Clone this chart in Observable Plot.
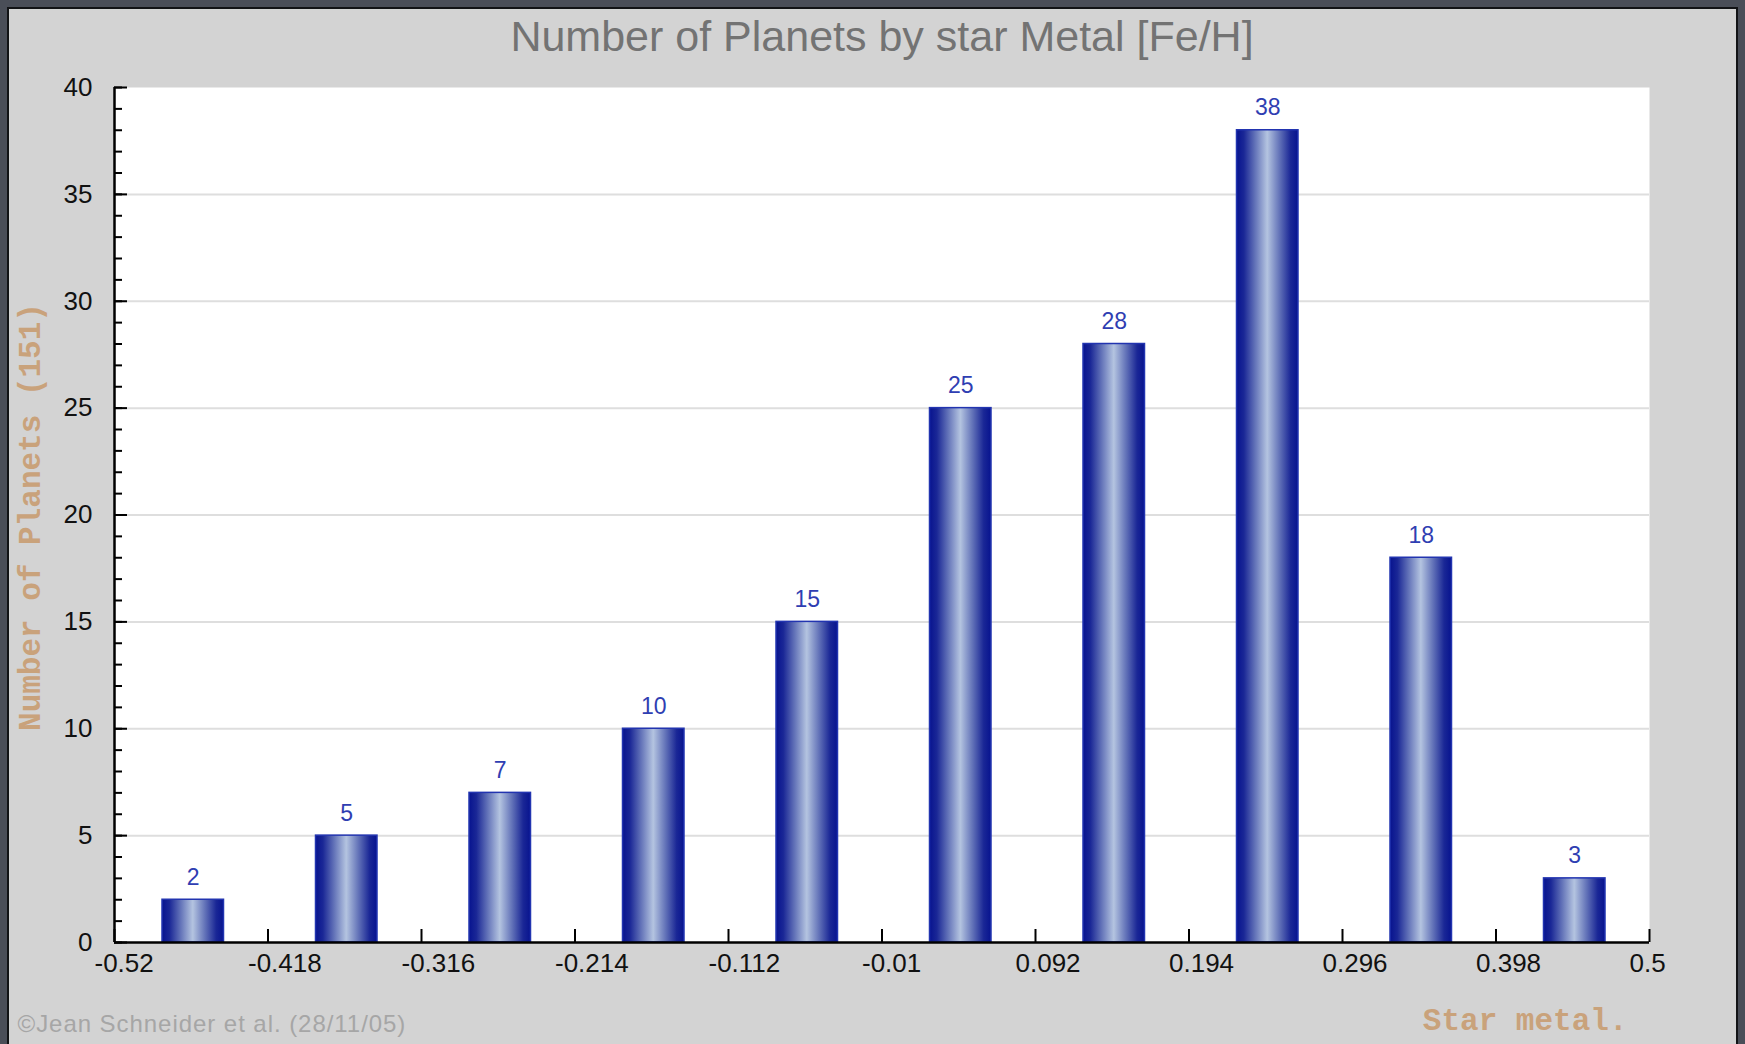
<!DOCTYPE html>
<html>
<head>
<meta charset="utf-8">
<script src="https://cdn.jsdelivr.net/npm/d3@7"></script>
<script src="https://cdn.jsdelivr.net/npm/@observablehq/plot@0.6"></script>
<style>
  html, body { margin: 0; padding: 0; background: #d3d3d3; }
  #wrap { position: relative; width: 1745px; height: 1044px; }
  #wrap svg { display: block; }
  #edge {
    position: absolute; left: 0; top: 0; right: 0; bottom: 0;
    border: 7px solid #4a4e58;
    border-bottom: none;
    pointer-events: none;
  }
  #edge::after {
    content: ""; position: absolute; left: 0; top: 0; right: 0; bottom: 0;
    border: 2px solid #121316; border-bottom: none;
  }
</style>
</head>
<body>
<div id="wrap"><div id="edge"></div></div>
<script>
// Histogram of planet host stars by metallicity [Fe/H]
const binEdges = [-0.52, -0.418, -0.316, -0.214, -0.112, -0.01, 0.092, 0.194, 0.296, 0.398, 0.5];
const planetCounts = [2, 5, 7, 10, 15, 25, 28, 38, 18, 3];
const yLabelTicks = [0, 5, 10, 15, 20, 25, 30, 35, 40];
const yGridTicks = [5, 10, 15, 20, 25, 30, 35];
const yMinorTicks = [0,1,2,3,4,5,6,7,8,9,10,11,12,13,14,15,16,17,18,19,20,21,22,23,24,25,26,27,28,29,30,31,32,33,34,35,36,37,38,39,40];
const titleText = "Number of Planets by star Metal [Fe/H]";
const yTitle = "Number of Planets (151)";
const xTitle = "Star metal.";
const creditText = "©Jean Schneider et al. (28/11/05)";

const bins = planetCounts.map((count, i) => ({
  lo: binEdges[i],
  hi: binEdges[i + 1],
  mid: (binEdges[i] + binEdges[i + 1]) / 2,
  count
}));

const sans = "'Liberation Sans', Arial, Helvetica, sans-serif";
const mono = "'Liberation Mono', 'DejaVu Sans Mono', monospace";
const tan = "#c9a27b";

const chart = Plot.plot({
  width: 1745,
  height: 1044,
  marginLeft: 114,
  marginRight: 96,
  marginTop: 87,
  marginBottom: 102,
  style: {background: "#d3d3d3", fontFamily: sans, overflow: "visible"},
  x: {domain: [-0.52, 0.5], axis: null},
  y: {domain: [0, 40], axis: null},
  marks: [
    Plot.frame({fill: "white", stroke: null}),
    Plot.gridY(yGridTicks, {stroke: "#dedede", strokeOpacity: 1, strokeWidth: 2}),
    Plot.rectY(bins, {
      x1: "lo", x2: "hi", y: "count",
      insetLeft: 48, insetRight: 44,
      fill: "url(#barShade)", stroke: "#2234b0", strokeWidth: 1.5
    }),
    Plot.text(bins, {
      x: "mid", y: "count", text: d => String(d.count),
      lineAnchor: "bottom", dy: -15, dx: 2,
      fill: "#2f3eb2", fontSize: 23
    }),
    Plot.ruleY([0], {stroke: "black", strokeWidth: 2.5}),
    Plot.ruleX([-0.52], {stroke: "black", strokeWidth: 2.5}),
    // inward tick marks
    Plot.axisY({ticks: yMinorTicks, tickSize: -8, fill: "none", stroke: "black", strokeWidth: 2, label: null}),
    Plot.axisY({ticks: yLabelTicks, tickSize: -13, fill: "none", stroke: "black", strokeWidth: 2, label: null}),
    Plot.axisX({ticks: binEdges, tickSize: -13, fill: "none", stroke: "black", strokeWidth: 2, label: null}),
    // tick labels
    Plot.axisY({ticks: yLabelTicks, tickSize: 0, tickPadding: 22, fontSize: 26, fill: "#111", label: null}),
    Plot.axisX({
      ticks: binEdges, tickSize: 0, tickPadding: 11, fontSize: 26, fill: "#111", label: null,
      textAnchor: "start", dx: -20, tickFormat: d => String(d)
    }),
    // titles and credit
    Plot.text([titleText], {
      frameAnchor: "top", dy: -50, lineAnchor: "middle",
      fontSize: 43, fill: "#737373"
    }),
    Plot.text([yTitle], {
      frameAnchor: "left", dx: -84, dy: 2, rotate: -90, textAnchor: "middle", lineAnchor: "middle",
      fontFamily: mono, fontWeight: "bold", fontSize: 31, fill: tan
    }),
    Plot.text([xTitle], {
      frameAnchor: "bottom-right", dx: -22, dy: 78, textAnchor: "end", lineAnchor: "middle",
      fontFamily: mono, fontWeight: "bold", fontSize: 31, fill: tan
    }),
    Plot.text([creditText], {
      frameAnchor: "bottom-left", dx: -97, dy: 82, textAnchor: "start", lineAnchor: "middle",
      fontSize: 24, fill: "#a6a6a6"
    })
  ]
});

// widen the credit line's letter spacing
chart.querySelectorAll("text").forEach(t => {
  if (t.textContent === creditText) t.style.letterSpacing = "0.95px";
});

// horizontal cylinder shading for the bars
const ns = "http://www.w3.org/2000/svg";
const defs = document.createElementNS(ns, "defs");
const grad = document.createElementNS(ns, "linearGradient");
grad.setAttribute("id", "barShade");
grad.setAttribute("x1", "0"); grad.setAttribute("x2", "1");
grad.setAttribute("y1", "0"); grad.setAttribute("y2", "0");
[[0, "#07138f"], [0.12, "#1a2796"], [0.3, "#6272b8"], [0.5, "#b4c4e0"], [0.7, "#6272b8"], [0.88, "#1a2796"], [1, "#07138f"]].forEach(([o, c]) => {
  const s = document.createElementNS(ns, "stop");
  s.setAttribute("offset", o);
  s.setAttribute("stop-color", c);
  grad.appendChild(s);
});
defs.appendChild(grad);
chart.insertBefore(defs, chart.firstChild);

document.getElementById("wrap").insertBefore(chart, document.getElementById("edge"));
</script>
</body>
</html>
